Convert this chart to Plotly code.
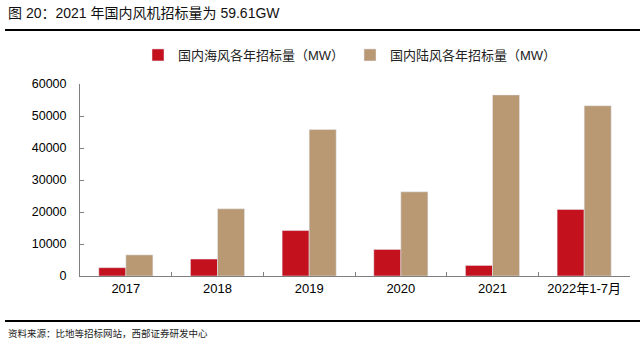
import plotly.graph_objects as go

categories = ["2017", "2018", "2019", "2020", "2021", "2022年1-7月"]
offshore = [2600, 5300, 14200, 8300, 3300, 20800]
onshore = [6600, 21000, 45800, 26300, 56600, 53200]
y_ticks = [0, 10000, 20000, 30000, 40000, 50000, 60000]

RED = "#C3111D"
TAN = "#B99874"
CJK = "Noto Sans CJK SC"
LAT = "Liberation Sans, Arial"

W, H = 640, 356
L, R, T, B = 80, 10, 84, 80
PW, PH = W - L - R, H - T - B


def px(x):
    return (x - L) / PW


def py(y):
    return (H - B - y) / PH


fig = go.Figure()
fig.add_trace(go.Bar(x=categories, y=offshore, name="国内海风各年招标量（MW）",
                     marker_color=RED))
fig.add_trace(go.Bar(x=categories, y=onshore, name="国内陆风各年招标量（MW）",
                     marker_color=TAN))

fig.update_layout(
    width=W, height=H,
    margin=dict(l=L, r=R, t=T, b=B),
    paper_bgcolor="white", plot_bgcolor="white",
    barmode="group", bargap=0.41, bargroupgap=0,
    font=dict(family=LAT, size=13, color="#000000"),
    showlegend=True,
    legend=dict(orientation="h", x=px(138), xanchor="left", y=py(55), yanchor="middle",
                font=dict(family=LAT + ", " + CJK, size=13, color="#222222"),
                itemwidth=30, entrywidth=167, traceorder="normal"),
    xaxis=dict(type="category", showline=True, linecolor="#7f7f7f", linewidth=1,
               ticks="inside", tickson="boundaries", ticklen=4, tickcolor="#7f7f7f",
               tickfont=dict(family=LAT + ", " + CJK, size=13), showgrid=False),
    yaxis=dict(range=[0, 60000], tickvals=y_ticks, showline=True, linecolor="#7f7f7f",
               linewidth=1, ticks="inside", ticklen=4, tickcolor="#7f7f7f",
               showgrid=False, zeroline=False, tickformat="d",
               tickfont=dict(family=LAT, size=12.5), ticklabelstandoff=10),
)

fig.add_annotation(text="图 20：2021 年国内风机招标量为 59.61GW", xref="paper", yref="paper",
                   x=px(6), y=py(13), xanchor="left", yanchor="middle",
                   showarrow=False, font=dict(family=LAT + ", " + CJK, size=14, color="#111111"))
fig.add_annotation(text="资料来源：比地等招标网站，西部证券研发中心", xref="paper", yref="paper",
                   x=px(6), y=py(333), xanchor="left", yanchor="middle",
                   showarrow=False, font=dict(family=CJK, size=9.5, color="#222222"))
fig.add_shape(type="line", xref="paper", yref="paper", x0=px(5), x1=px(640),
              y0=py(30), y1=py(30), line=dict(color="#000000", width=2))
fig.add_shape(type="line", xref="paper", yref="paper", x0=px(5), x1=px(640),
              y0=py(321), y1=py(321), line=dict(color="#000000", width=2))

fig.write_html("out.html", config={"displayModeBar": False},
               post_script="document.body.style.margin='0';")
